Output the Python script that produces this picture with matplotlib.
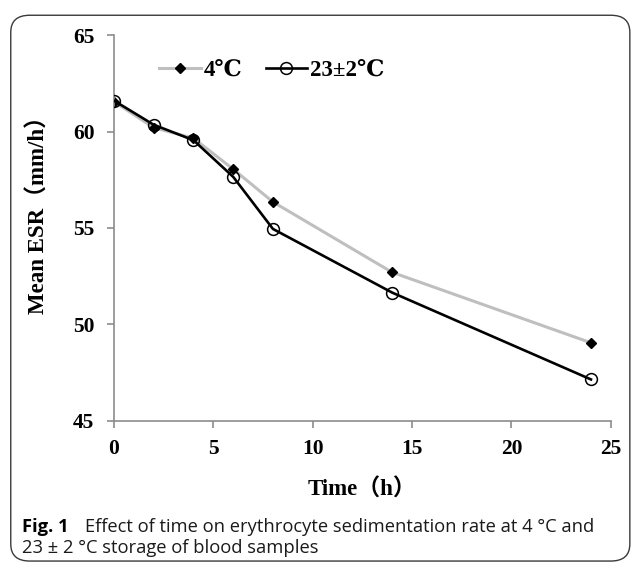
import matplotlib
matplotlib.use("Agg")
import matplotlib.pyplot as plt
from matplotlib.patches import FancyBboxPatch

time_h = [0, 2, 4, 6, 8, 14, 24]
esr_4c = [61.55, 60.2, 59.65, 58.05, 56.35, 52.7, 49.05]
esr_23c = [61.6, 60.35, 59.55, 57.65, 54.95, 51.65, 47.15]
series_labels = ["4℃", "23±2℃"]
x_ticks = [0, 5, 10, 15, 20, 25]
y_ticks = [45, 50, 55, 60, 65]

serif = ["Liberation Serif", "DejaVu Serif", "Noto Sans CJK SC"]
cap_font = ["Open Sans"]

fig = plt.figure(figsize=(6.33, 5.65), dpi=100)
border = FancyBboxPatch((0.017, 0.007), 0.978, 0.966,
                        boxstyle="round,pad=0,rounding_size=0.03",
                        transform=fig.transFigure, fill=False,
                        edgecolor="#3a3a3a", linewidth=1.0)
fig.patches.append(border)

ax = fig.add_axes([0.180, 0.255, 0.785, 0.683])
ax.plot(time_h, esr_4c, color="#bfbfbf", linewidth=2.2, marker="D",
        markersize=5, markerfacecolor="black", markeredgecolor="black",
        label=series_labels[0], zorder=2)
ax.plot(time_h, esr_23c, color="black", linewidth=1.9, marker="o",
        markersize=8.5, markerfacecolor="none", markeredgecolor="black",
        markeredgewidth=1.1, label=series_labels[1], zorder=3)

ax.set_xlim(0, 25)
ax.set_ylim(45, 65)
ax.set_xticks(x_ticks)
ax.set_yticks(y_ticks)
for s in ["top", "right"]:
    ax.spines[s].set_visible(False)
for s in ["left", "bottom"]:
    ax.spines[s].set_color("#8c8c8c")
    ax.spines[s].set_linewidth(1.2)
ax.tick_params(direction="out", length=5, width=1.2, color="#8c8c8c")
ax.tick_params(axis="x", pad=8)
ax.tick_params(axis="y", pad=9)
for lab in ax.get_xticklabels() + ax.get_yticklabels():
    lab.set_fontfamily(serif)
    lab.set_fontweight("bold")
    lab.set_fontsize(15.5)

ax.set_xlabel("Time（h）", fontfamily=serif, fontweight="bold", fontsize=16.5,
              labelpad=14)
ax.set_ylabel("Mean ESR（mm/h）", fontfamily=serif, fontweight="bold",
              fontsize=16.5)
ax.yaxis.set_label_coords(-0.129, 0.547)

leg = ax.legend(loc="upper left", bbox_to_anchor=(0.05, 0.99), ncol=2,
                frameon=False, handlelength=1.8, columnspacing=1.0,
                handletextpad=0.15,
                prop={"family": serif, "weight": "bold", "size": 16.5})

fig.text(0.035, 0.058, "Fig. 1", fontfamily=cap_font, fontweight="bold",
         fontsize=13.2, va="baseline")
fig.text(0.135, 0.058, "Effect of time on erythrocyte sedimentation rate at 4 °C and",
         fontfamily=cap_font, fontsize=13.2, va="baseline", color="#1a1a1a")
fig.text(0.035, 0.022, "23 ± 2 °C storage of blood samples",
         fontfamily=cap_font, fontsize=13.2, va="baseline", color="#1a1a1a")

fig.savefig("out.png", dpi=100)
